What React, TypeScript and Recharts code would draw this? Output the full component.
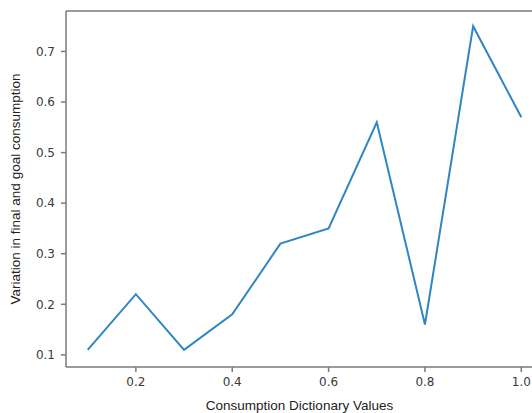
import React from 'react';
import { LineChart, Line, XAxis, YAxis, ReferenceLine } from 'recharts';

// consumption dictionary values (x) and the variation (y)
const dictValues = [0.1, 0.2, 0.3, 0.4, 0.5, 0.6, 0.7, 0.8, 0.9, 1.0];
const variation = [0.11, 0.22, 0.11, 0.18, 0.32, 0.35, 0.56, 0.16, 0.75, 0.57];
const xTicks = [0.2, 0.4, 0.6, 0.8, 1.0];
const yTicks = [0.1, 0.2, 0.3, 0.4, 0.5, 0.6, 0.7];
const xDomain = [0.055, 1.045];
const yDomain = [0.076, 0.78];

const data = dictValues.map((x, i) => ({ x, y: variation[i] }));

const spine = '#7a7a7a';
const tickText = { fontFamily: 'DejaVu Sans', fontSize: 12, fill: '#3a3a3a' };
const labelFont = { fontFamily: 'Liberation Sans', fontSize: 13.5, fill: '#222' };

export default function App() {
  return (
    <div style={{ position: 'absolute', left: 0, top: 0, width: 532, height: 413, overflow: 'hidden', background: '#fff' }}>
      <LineChart width={560} height={413} data={data} margin={{ top: 11, right: 17, left: 0, bottom: 0 }}>
        <XAxis
          dataKey="x"
          type="number"
          domain={xDomain}
          allowDataOverflow
          ticks={xTicks}
          tickFormatter={(v: number) => v.toFixed(1)}
          height={46}
          tick={tickText}
          tickSize={5}
          tickMargin={5}
          stroke={spine}
          strokeWidth={1.5}
          label={{ value: 'Consumption Dictionary Values', position: 'insideBottom', offset: 3, dx: -5, style: labelFont }}
        />
        <YAxis
          type="number"
          domain={yDomain}
          allowDataOverflow
          ticks={yTicks}
          tickFormatter={(v: number) => v.toFixed(1)}
          width={66}
          tick={tickText}
          tickSize={5}
          tickMargin={6}
          stroke={spine}
          strokeWidth={1.5}
          label={{
            value: 'Variation in final and goal consumption',
            angle: -90,
            position: 'insideLeft',
            offset: 18,
            dx: -3,
            style: { ...labelFont, textAnchor: 'middle' },
          }}
        />
        {/* top spine of the box */}
        <ReferenceLine y={yDomain[1]} stroke={spine} strokeWidth={1.5} />
        <Line
          type="linear"
          dataKey="y"
          stroke="#2f86c1"
          strokeWidth={2}
          dot={false}
          isAnimationActive={false}
        />
      </LineChart>
    </div>
  );
}
